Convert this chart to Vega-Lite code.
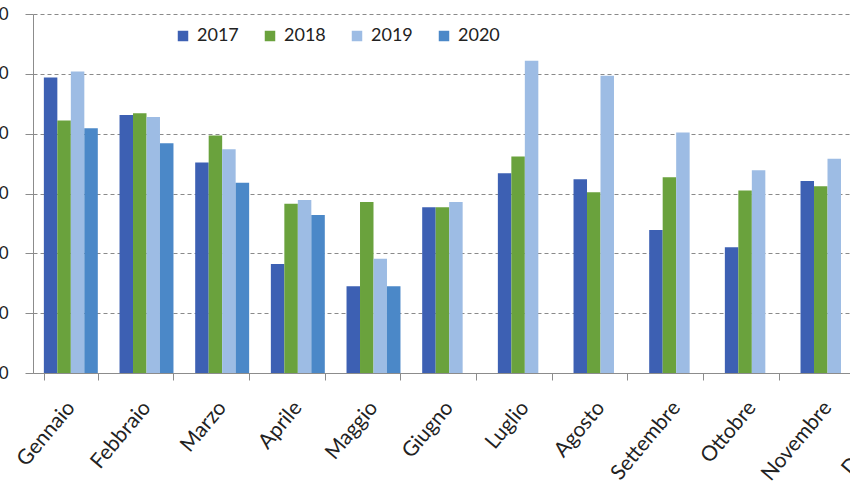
{
  "$schema": "https://vega.github.io/schema/vega-lite/v6.json",
  "autosize": {"type": "none"},
  "width": 908,
  "height": 359,
  "padding": {"left": 33, "top": 14, "right": -91, "bottom": 127},
  "background": "white",
  "data": {
    "values": [
      {"mese": "Gennaio", "anno": "2017", "valore": 49.4},
      {"mese": "Gennaio", "anno": "2018", "valore": 42.2},
      {"mese": "Gennaio", "anno": "2019", "valore": 50.4},
      {"mese": "Gennaio", "anno": "2020", "valore": 40.9},
      {"mese": "Febbraio", "anno": "2017", "valore": 43.1},
      {"mese": "Febbraio", "anno": "2018", "valore": 43.4},
      {"mese": "Febbraio", "anno": "2019", "valore": 42.8},
      {"mese": "Febbraio", "anno": "2020", "valore": 38.4},
      {"mese": "Marzo", "anno": "2017", "valore": 35.2},
      {"mese": "Marzo", "anno": "2018", "valore": 39.7},
      {"mese": "Marzo", "anno": "2019", "valore": 37.4},
      {"mese": "Marzo", "anno": "2020", "valore": 31.8},
      {"mese": "Aprile", "anno": "2017", "valore": 18.2},
      {"mese": "Aprile", "anno": "2018", "valore": 28.3},
      {"mese": "Aprile", "anno": "2019", "valore": 28.9},
      {"mese": "Aprile", "anno": "2020", "valore": 26.4},
      {"mese": "Maggio", "anno": "2017", "valore": 14.5},
      {"mese": "Maggio", "anno": "2018", "valore": 28.6},
      {"mese": "Maggio", "anno": "2019", "valore": 19.1},
      {"mese": "Maggio", "anno": "2020", "valore": 14.5},
      {"mese": "Giugno", "anno": "2017", "valore": 27.7},
      {"mese": "Giugno", "anno": "2018", "valore": 27.7},
      {"mese": "Giugno", "anno": "2019", "valore": 28.6},
      {"mese": "Luglio", "anno": "2017", "valore": 33.4},
      {"mese": "Luglio", "anno": "2018", "valore": 36.2},
      {"mese": "Luglio", "anno": "2019", "valore": 52.2},
      {"mese": "Agosto", "anno": "2017", "valore": 32.4},
      {"mese": "Agosto", "anno": "2018", "valore": 30.2},
      {"mese": "Agosto", "anno": "2019", "valore": 49.7},
      {"mese": "Settembre", "anno": "2017", "valore": 23.9},
      {"mese": "Settembre", "anno": "2018", "valore": 32.7},
      {"mese": "Settembre", "anno": "2019", "valore": 40.2},
      {"mese": "Ottobre", "anno": "2017", "valore": 21.0},
      {"mese": "Ottobre", "anno": "2018", "valore": 30.5},
      {"mese": "Ottobre", "anno": "2019", "valore": 33.9},
      {"mese": "Novembre", "anno": "2017", "valore": 32.1},
      {"mese": "Novembre", "anno": "2018", "valore": 31.2},
      {"mese": "Novembre", "anno": "2019", "valore": 35.8}
    ]
  },
  "mark": {"type": "bar"},
  "encoding": {
    "x": {
      "field": "mese",
      "type": "nominal",
      "sort": null,
      "title": null,
      "scale": {
        "domain": ["Gennaio", "Febbraio", "Marzo", "Aprile", "Maggio", "Giugno", "Luglio", "Agosto", "Settembre", "Ottobre", "Novembre", "Dicembre"],
        "paddingInner": 0.287,
        "paddingOuter": 0.1435
      },
      "axis": {
        "tickBand": "extent",
        "labelAngle": -50,
        "labelAlign": "right",
        "labelBaseline": "middle",
        "labelPadding": 24,
        "labelFont": "Lato",
        "labelFontSize": 21,
        "labelColor": "#222222",
        "labelOverlap": false,
        "labelBound": false,
        "domainColor": "#8c8c8c",
        "tickColor": "#8c8c8c",
        "tickSize": 7,
        "grid": false
      }
    },
    "xOffset": {
      "field": "anno",
      "type": "nominal",
      "scale": {"domain": ["2017", "2018", "2019", "2020"], "paddingInner": 0, "paddingOuter": 0}
    },
    "y": {
      "field": "valore",
      "type": "quantitative",
      "title": null,
      "scale": {"domain": [0, 60], "nice": false},
      "axis": {
        "values": [0, 10, 20, 30, 40, 50, 60],
        "labelFont": "Lato",
        "labelFontSize": 17,
        "labelColor": "#222222",
        "labelPadding": 17,
        "tickSize": 8,
        "tickColor": "#8c8c8c",
        "domainColor": "#8c8c8c",
        "gridColor": "#8a8a8a",
        "gridDash": [4, 3],
        "gridWidth": 1
      }
    },
    "color": {
      "field": "anno",
      "type": "nominal",
      "title": null,
      "scale": {
        "domain": ["2017", "2018", "2019", "2020"],
        "range": ["#3d60b3", "#6aa23d", "#9dbce4", "#4b88c8"]
      },
      "legend": {
        "orient": "none",
        "legendX": 141,
        "legendY": 13,
        "direction": "horizontal",
        "symbolType": "square",
        "symbolSize": 110,
        "symbolStrokeWidth": 0,
        "labelFont": "Lato",
        "labelFontSize": 18,
        "labelColor": "#222222",
        "labelOffset": 5,
        "columnPadding": 22
      }
    }
  },
  "config": {"view": {"stroke": null}}
}
